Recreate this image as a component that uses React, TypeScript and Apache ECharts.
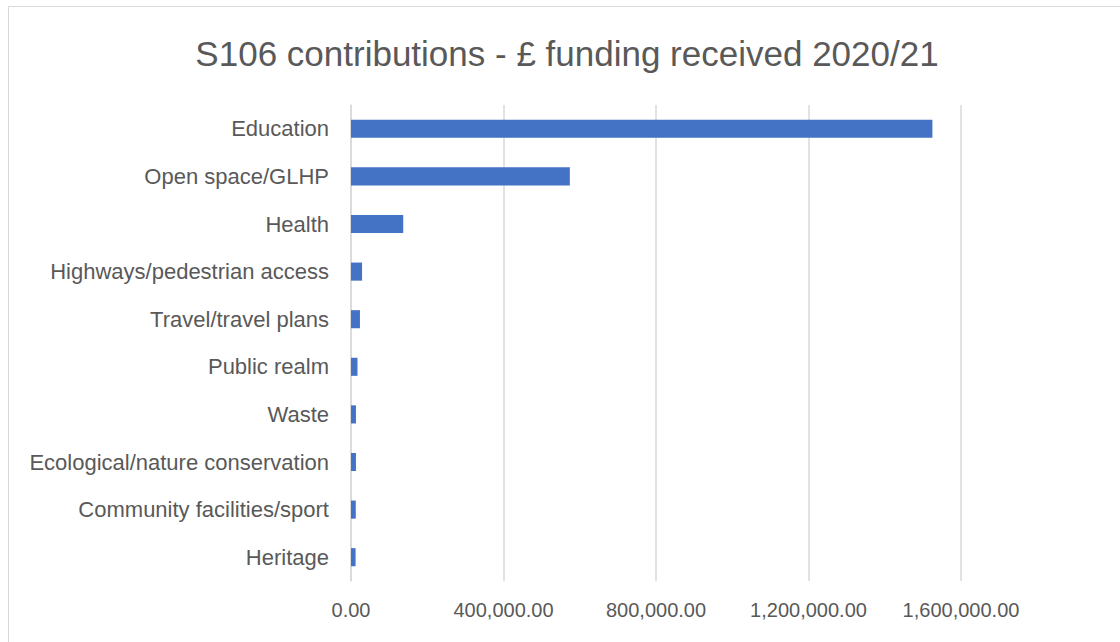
import React, { useEffect, useRef } from "react";
import * as echarts from "echarts";

const titleText = "S106 contributions - £ funding received 2020/21";
const categories = [
  "Education",
  "Open space/GLHP",
  "Health",
  "Highways/pedestrian access",
  "Travel/travel plans",
  "Public realm",
  "Waste",
  "Ecological/nature conservation",
  "Community facilities/sport",
  "Heritage",
];
const funding = [1525000, 574000, 137000, 29000, 23500, 17000, 13000, 13000, 12500, 12000];
const axisMin = 0;
const axisMax = 1600000;
const axisStep = 400000;

const fmt = (v: number) =>
  v.toLocaleString("en-GB", { minimumFractionDigits: 2, maximumFractionDigits: 2 });

export default function App() {
  const ref = useRef<HTMLDivElement>(null);
  useEffect(() => {
    if (!ref.current) return;
    const chart = echarts.init(ref.current, undefined, { renderer: "svg" });
    const font = "'Liberation Sans', Arial, sans-serif";
    chart.setOption({
      animation: false,
      backgroundColor: "#ffffff",
      textStyle: { fontFamily: font },
      graphic: [
        {
          type: "rect",
          shape: { x: 8.5, y: 6.5, width: 1300, height: 800 },
          style: { fill: "none", stroke: "#d9d9d9", lineWidth: 1 },
          silent: true,
          z: -1,
        },
      ],
      title: {
        text: titleText,
        left: 562,
        textAlign: "center",
        top: 31,
        textStyle: {
          fontFamily: font,
          fontSize: 35,
          fontWeight: "normal",
          color: "#595959",
        },
      },
      grid: { left: 351, right: 159, top: 105, bottom: 61, containLabel: false },
      xAxis: {
        type: "value",
        min: axisMin,
        max: axisMax,
        interval: axisStep,
        axisLine: { show: false },
        axisTick: { show: false },
        splitLine: { show: true, lineStyle: { color: "#d9d9d9", width: 1.5 } },
        axisLabel: {
          color: "#595959",
          fontSize: 20,
          fontFamily: font,
          margin: 19,
          formatter: (v: number) => fmt(v),
        },
      },
      yAxis: {
        type: "category",
        data: categories,
        inverse: true,
        axisLine: { show: true, lineStyle: { color: "#d9d9d9", width: 1.5 } },
        axisTick: { show: false },
        axisLabel: {
          color: "#595959",
          fontSize: 22,
          fontFamily: font,
          margin: 22,
        },
      },
      series: [
        {
          type: "bar",
          data: funding,
          barCategoryGap: "62%",
          itemStyle: { color: "#4472C4" },
        },
      ],
    });
    return () => chart.dispose();
  }, []);
  return (
    <div
      ref={ref}
      style={{ position: "fixed", left: 0, top: 0, width: 1120, height: 642 }}
    />
  );
}
